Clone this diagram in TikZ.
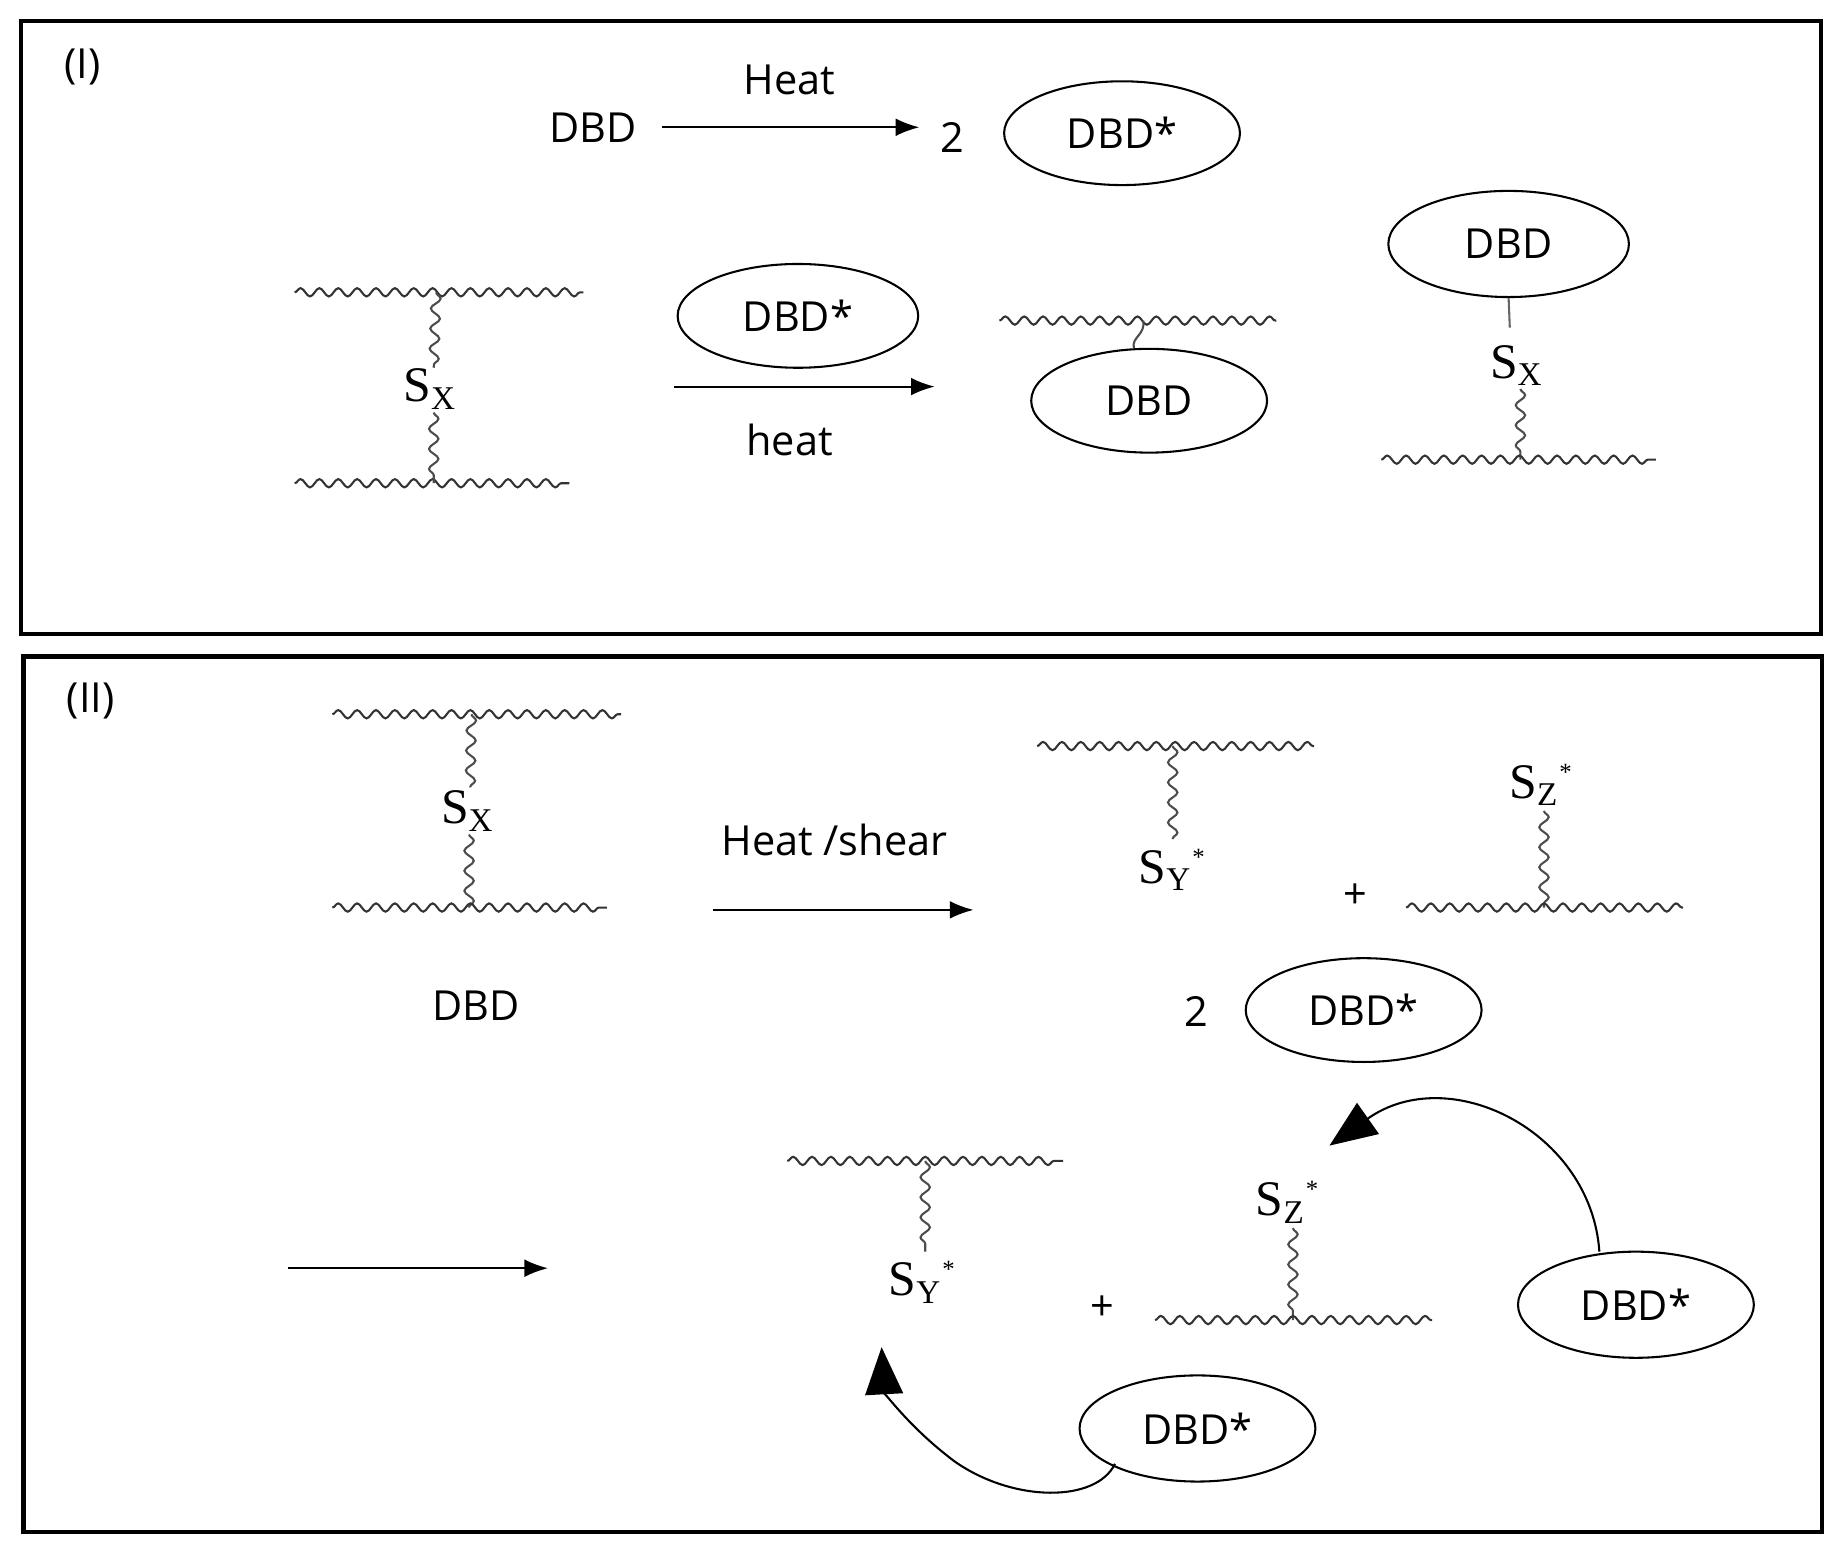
\documentclass[tikz,border=0pt]{standalone}
\usepackage{fontspec}
\setmainfont{Open Sans}
\newfontfamily\tms{Liberation Serif}
\usetikzlibrary{decorations.pathmorphing,arrows.meta,shapes.geometric}
\begin{document}
\begin{tikzpicture}[x=0.01cm,y=-0.01cm,font=\fontsize{10}{12}\selectfont,
  chain/.style={draw=black!80,line width=0.5pt,decorate,decoration={snake,segment length=0.16cm,amplitude=0.035cm}},
  link/.style={draw=black!70,line width=0.5pt,decorate,decoration={snake,segment length=0.17cm,amplitude=0.04cm}},
  ell/.style={ellipse,draw,line width=0.5pt,minimum width=2cm,minimum height=0.88cm,inner sep=0pt},
  arr/.style={-{Latex[length=0.2cm,width=0.15cm]},line width=0.5pt},
  bigarr/.style={-{Triangle[length=0.4cm,width=0.32cm]},line width=0.5pt},
  sl/.style={font=\tms\fontsize{12}{14}\selectfont,inner sep=1pt}]
\newcommand\st{\textsuperscript{\fontsize{6}{6}\selectfont *}}
\useasboundingbox (0,0) rectangle (1562,1312);
\draw[line width=1pt] (18,18) rectangle (1545,538);
\draw[line width=1pt] (20,557) rectangle (1546,1300);
\node (l1) at (70,57) {(I)};
\node (l2) at (77,595) {(II)};
% panel I
\node (d0) at (503,108) {DBD};
\coordinate (a1s) at (562,108); \coordinate (a1e) at (780,108);
\draw[arr] (a1s) -- (a1e);
\node (h1) at (670,68) {Heat};
\node (two1) at (808,117) {2};
\node[ell] (e1) at (952,113) {DBD*};
\draw[chain] (250,248) -- (495,248);
\draw[chain] (250,410) -- (483,410);
\draw[link] (370,248) -- (368,312);
\node[sl] (sx1) at (365,330) {S\textsubscript{X}};
\draw[link] (368,350) -- (368,410);
\node[ell,minimum width=2.04cm] (e2) at (677,268) {DBD*};
\coordinate (a2s) at (572,328); \coordinate (a2e) at (793,328);
\draw[arr] (a2s) -- (a2e);
\node (h2) at (670,373) {heat};
\draw[chain] (848,272) -- (1083,272);
\node[ell] (e3) at (975,340) {DBD};
\draw[black!70,line width=0.5pt] (970,272) .. controls (972,284) and (960,286) .. (e3.north -| 962,0);
\node[ell,minimum width=2.04cm,minimum height=0.9cm] (e4) at (1280,207) {DBD};
\node[sl] (sx2) at (1287,310) {S\textsubscript{X}};
\draw[black!60,line width=0.5pt] (e4.south) -- (1281,278);
\draw[link] (1290,330) -- (1290,390);
\draw[chain] (1172,390) -- (1405,390);
% panel II
\draw[chain] (282,606) -- (527,606);
\draw[link] (400,606) -- (399,668);
\node[sl] (sx3) at (397,688) {S\textsubscript{X}};
\draw[link] (398,708) -- (398,770);
\draw[chain] (282,770) -- (515,770);
\node (d1) at (404,853) {DBD};
\node (hs) at (708,713) {Heat /shear};
\coordinate (a3s) at (605,772); \coordinate (a3e) at (826,772);
\draw[arr] (a3s) -- (a3e);
\draw[chain] (880,633) -- (1115,633);
\draw[link] (995,633) -- (995,712);
\node[sl] (sy1) at (995,738) {S\textsubscript{Y}\st};
\node (p1) at (1150,760) {+};
\node[sl] (sz1) at (1308,666) {S\textsubscript{Z}\st};
\draw[link] (1310,688) -- (1310,770);
\draw[chain] (1193,770) -- (1428,770);
\node (two2) at (1015,858) {2};
\node[ell] (e5) at (1157,857) {DBD*};
\coordinate (a4s) at (244,1076); \coordinate (a4e) at (465,1076);
\draw[arr] (a4s) -- (a4e);
\draw[chain] (668,985) -- (902,985);
\draw[link] (785,985) -- (785,1062);
\node[sl] (sy2) at (783,1088) {S\textsubscript{Y}\st};
\node (p2) at (935,1110) {+};
\node[sl] (sz2) at (1093,1020) {S\textsubscript{Z}\st};
\draw[link] (1097,1042) -- (1097,1120);
\draw[chain] (980,1120) -- (1215,1120);
\node[ell,minimum height=0.9cm] (e6) at (1388,1107) {DBD*};
\node[ell,minimum height=0.9cm] (e7) at (1016,1212) {DBD*};
\coordinate (t1) at (1128,972);
\coordinate (t2) at (748,1143);
\draw[bigarr] (1357,1062) .. controls (1350,960) and (1230,900) .. (t1);
\draw[bigarr] (946,1242) .. controls (930,1275) and (860,1275) .. (810,1240) .. controls (770,1210) and (750,1180) .. (t2);
\end{tikzpicture}
\end{document}
